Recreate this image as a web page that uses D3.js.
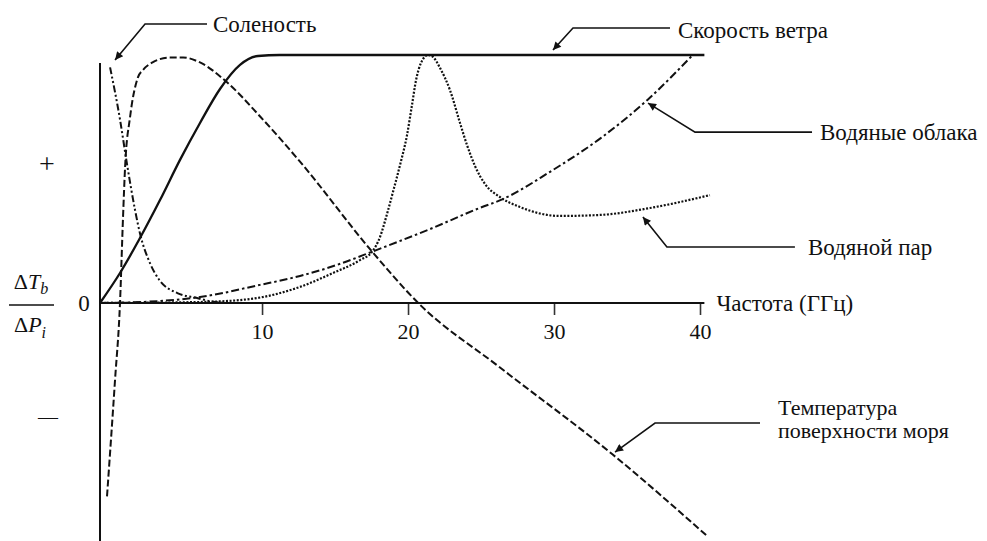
<!DOCTYPE html>
<html>
<head>
<meta charset="utf-8">
<script src="https://cdn.jsdelivr.net/npm/d3@7"></script>
<style>
  body { margin: 0; background: #fff; }
  svg text { font-family: "Liberation Serif", "DejaVu Serif", serif; fill: #111; }
</style>
</head>
<body>
<div id="chart"></div>
<script>
// frequency, GHz
const xTicks = [10, 20, 30, 40];

// sensitivity curves (relative units, plateau = 1)
const windGHz = [-1.1, 0.27, 1.64, 3.01, 4.38, 5.75, 7.12, 8.49, 9.72, 11.2, 40.3];
const windVal = [0, 0.121, 0.262, 0.415, 0.577, 0.726, 0.863, 0.96, 0.996, 1.0, 1.0];

const sstGHz = [-0.62, -0.07, 0.27, 0.48, 0.62, 0.96, 1.5, 1.85, 2.5, 3.7, 4.6, 5.75, 7.6, 9.9, 12.6, 17.5, 20.7, 26.3, 34.0, 40.5];
const sstVal = [-0.78, -0.31, 0, 0.35, 0.55, 0.75, 0.91, 0.94, 0.97, 0.99, 0.99, 0.97, 0.89, 0.75, 0.57, 0.21, 0, -0.26, -0.61, -0.94];

const salGHz = [-0.41, 0.27, 0.75, 1.3, 1.64, 2.33, 3.0, 4.2, 5.55, 6.64, 7.8];
const salVal = [0.95, 0.74, 0.56, 0.375, 0.28, 0.16, 0.09, 0.04, 0.02, 0.005, 0];

const cloudGHz = [-1.1, 3.0, 5.75, 9.86, 12.6, 15.3, 17.5, 21.5, 24.9, 26.5, 29.7, 33.2, 36.4, 39.5];
const cloudVal = [0, 0.008, 0.024, 0.073, 0.109, 0.157, 0.206, 0.298, 0.383, 0.419, 0.528, 0.665, 0.819, 1.0];

const vapGHz = [-1.1, 5.75, 9.17, 12.6, 14.86, 16.71, 17.53, 18.08, 18.56, 18.97, 19.45, 19.93, 20.27, 20.55, 20.89, 21.37, 21.71, 22.19, 22.87, 23.56, 24.04, 24.59, 25.27, 26.3, 27.67, 30.41, 33.15, 36.57, 40.68];
const vapVal = [0, 0.004, 0.016, 0.065, 0.121, 0.173, 0.206, 0.266, 0.359, 0.448, 0.556, 0.677, 0.798, 0.899, 0.968, 1.0, 0.992, 0.948, 0.859, 0.726, 0.637, 0.552, 0.48, 0.427, 0.387, 0.351, 0.355, 0.383, 0.435];

// label texts and where their arrows point (GHz, value)
const labelText = [["Соленость"], ["Скорость ветра"], ["Водяные облака"], ["Водяной пар"], ["Температура", "поверхности моря"]];
const labelTipGHz = [-0.07, 29.93, 36.44, 36.09, 34.18];
const labelTipVal = [0.98, 1.02, 0.806, 0.347, -0.601];

const width = 987, height = 541;

const x = d3.scaleLinear().domain([-1.1, 40]).range([100, 700]);
const y = d3.scaleLinear().domain([-1, 1]).range([551, 55]);

const svg = d3.select("#chart").append("svg")
  .attr("width", width)
  .attr("height", height)
  .attr("font-family", "Liberation Serif");

svg.append("defs").append("marker")
  .attr("id", "arrow")
  .attr("viewBox", "0 0 10 10")
  .attr("refX", 10).attr("refY", 5)
  .attr("markerWidth", 11).attr("markerHeight", 8)
  .attr("markerUnits", "userSpaceOnUse")
  .attr("orient", "auto")
  .append("path")
  .attr("d", "M0,0L10,5L0,10Z")
  .attr("fill", "#111");

// axes
svg.append("line")
  .attr("x1", x(-1.1)).attr("x2", x(-1.1))
  .attr("y1", 63).attr("y2", height)
  .attr("stroke", "#111").attr("stroke-width", 2);

const xAxis = d3.axisBottom(x).tickValues(xTicks).tickSize(12).tickPadding(8);
const gx = svg.append("g")
  .attr("transform", `translate(0,${y(0)})`)
  .call(xAxis);
gx.select(".domain").remove();
gx.selectAll(".tick line").attr("stroke", "#333").attr("stroke-width", 1.6);
gx.selectAll(".tick text")
  .attr("font-family", "Liberation Serif")
  .attr("font-size", 22).attr("fill", "#111");

svg.append("line")
  .attr("x1", x(-1.1)).attr("x2", x(40.3))
  .attr("y1", y(0)).attr("y2", y(0))
  .attr("stroke", "#111").attr("stroke-width", 2);

svg.append("text")
  .attr("x", x(40.3) + 12).attr("y", y(0) + 8)
  .attr("font-size", 23)
  .text("Частота (ГГц)");

svg.append("text").attr("x", 84).attr("y", y(0) + 8)
  .attr("font-size", 23).attr("text-anchor", "middle").text("0");
svg.append("text").attr("x", 47).attr("y", y(0.56) + 9)
  .attr("font-size", 28).attr("text-anchor", "middle").attr("font-weight", 300).text("+");
svg.append("text").attr("x", 48).attr("y", y(-0.46) + 7)
  .attr("font-size", 20).attr("text-anchor", "middle").text("—");

// dTb / dPi
const num = svg.append("text").attr("x", 31).attr("y", 289).attr("text-anchor", "middle").attr("font-size", 22);
num.append("tspan").text("Δ");
num.append("tspan").attr("font-style", "italic").text("T");
num.append("tspan").attr("font-style", "italic").attr("font-size", 16).attr("dy", 5).text("b");
svg.append("line").attr("x1", 9).attr("x2", 54).attr("y1", 305).attr("y2", 305)
  .attr("stroke", "#111").attr("stroke-width", 1.4);
const den = svg.append("text").attr("x", 30).attr("y", 332).attr("text-anchor", "middle").attr("font-size", 22);
den.append("tspan").text("Δ");
den.append("tspan").attr("font-style", "italic").text("P");
den.append("tspan").attr("font-style", "italic").attr("font-size", 16).attr("dy", 6).text("i");

// curves
const line = d3.line()
  .x(d => x(d[0]))
  .y(d => y(d[1]))
  .curve(d3.curveMonotoneX);

const series = [
  { gx: windGHz, val: windVal, dash: null, w: 2.3 },
  { gx: sstGHz, val: sstVal, dash: "7,3", w: 2 },
  { gx: salGHz, val: salVal, dash: "7,2.5,2,2.5,2,2.5", w: 2 },
  { gx: cloudGHz, val: cloudVal, dash: "8,3,2.5,3", w: 2 },
  { gx: vapGHz, val: vapVal, dash: "2,1.6", w: 2.2 }
];

svg.selectAll(".curve")
  .data(series)
  .enter().append("path")
  .attr("class", "curve")
  .attr("d", s => line(s.gx.map((g, i) => [g, s.val[i]])))
  .attr("fill", "none")
  .attr("stroke", "#111")
  .attr("stroke-width", s => s.w)
  .attr("stroke-dasharray", s => s.dash);

// leader layout: elbow, line end and text, relative to the arrow tip (px)
const leaderLayout = [
  { elbow: [30, -36], end: [92, -36], text: [98, -28] },
  { elbow: [20, -22], end: [117, -22], text: [125, -12] },
  { elbow: [47, 29], end: [164, 29], text: [172, 37] },
  { elbow: [24, 30], end: [152, 30], text: [165, 38] },
  { elbow: [40, -29], end: [145, -29], text: [163, -37] }
];

labelText.forEach((lines, i) => {
  const tx = x(labelTipGHz[i]), ty = y(labelTipVal[i]);
  const L = leaderLayout[i];
  svg.append("path")
    .attr("d", `M${tx + L.end[0]},${ty + L.end[1]}L${tx + L.elbow[0]},${ty + L.elbow[1]}L${tx},${ty}`)
    .attr("fill", "none")
    .attr("stroke", "#111")
    .attr("stroke-width", 1.6)
    .attr("marker-end", "url(#arrow)");
  lines.forEach((s, j) => {
    svg.append("text")
      .attr("x", tx + L.text[0])
      .attr("y", ty + L.text[1] + j * 23)
      .attr("font-size", lines.length > 1 ? 22 : 23)
      .text(s);
  });
});
</script>
</body>
</html>
